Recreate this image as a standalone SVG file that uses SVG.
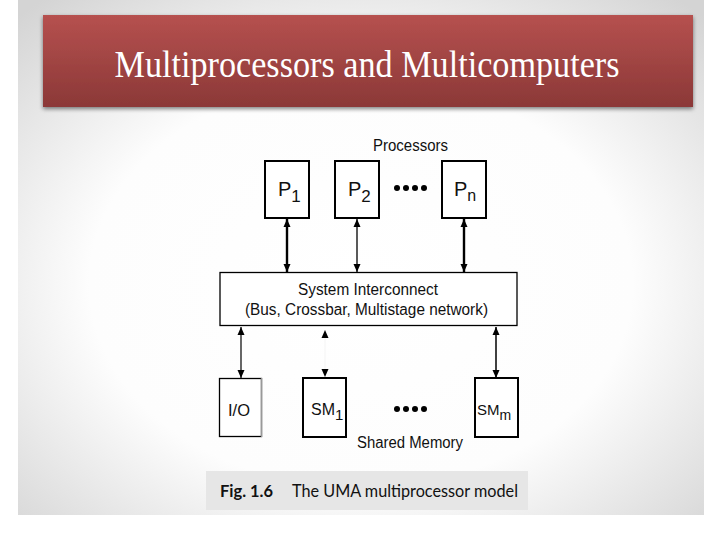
<svg xmlns="http://www.w3.org/2000/svg" width="720" height="540" viewBox="0 0 720 540">
<defs>
<radialGradient id="bg" cx="0.5" cy="0.55" r="0.72">
<stop offset="0" stop-color="#ffffff"/>
<stop offset="0.55" stop-color="#fdfdfd"/>
<stop offset="1" stop-color="#d4d4d4"/>
</radialGradient>
<linearGradient id="ban" x1="0" y1="0" x2="0" y2="1">
<stop offset="0" stop-color="#b6514f"/>
<stop offset="1" stop-color="#8b3837"/>
</linearGradient>
<filter id="sh" x="-5%" y="-10%" width="110%" height="130%">
<feGaussianBlur in="SourceAlpha" stdDeviation="2"/>
<feOffset dx="0" dy="2"/>
<feComponentTransfer><feFuncA type="linear" slope="0.5"/></feComponentTransfer>
<feMerge><feMergeNode/><feMergeNode in="SourceGraphic"/></feMerge>
</filter>
<marker id="ah" viewBox="0 0 8 10" refX="8" refY="5" markerWidth="8" markerHeight="10" markerUnits="userSpaceOnUse" orient="auto-start-reverse">
<path d="M0,1.5 L8,5 L0,8.5 Z" fill="#000"/>
</marker>
</defs>
<style>
.box{fill:#fff;stroke:#000;stroke-width:2}
.lbl{font-family:"Liberation Sans",Arial,sans-serif;fill:#111}
.con{fill:none;stroke:#000}
.dot{fill:#000}
</style>
<rect x="0" y="0" width="720" height="540" fill="#fff"/>
<rect x="18" y="0" width="686" height="515" fill="url(#bg)"/>
<g id="title">
<rect x="43" y="15" width="650" height="92" fill="url(#ban)" filter="url(#sh)"/>
<text x="367" y="77" text-anchor="middle" font-family="'Liberation Serif','DejaVu Serif',serif" font-size="38" fill="#fff" textLength="505" lengthAdjust="spacingAndGlyphs">Multiprocessors and Multicomputers</text>
</g>
<text class="lbl" x="373" y="151" font-size="17" textLength="75" lengthAdjust="spacingAndGlyphs">Processors</text>
<g id="P1">
<rect class="box" x="265" y="161" width="44" height="57"/>
<text class="lbl" x="278" y="196" font-size="20">P<tspan font-size="17" dy="6">1</tspan></text>
</g>
<g id="P2">
<rect class="box" x="335" y="161" width="44" height="57"/>
<text class="lbl" x="348" y="196" font-size="20">P<tspan font-size="17" dy="6">2</tspan></text>
</g>
<g id="pdots">
<circle class="dot" cx="397" cy="188" r="3"/><circle class="dot" cx="406" cy="188" r="3"/><circle class="dot" cx="415" cy="188" r="3"/><circle class="dot" cx="424" cy="188" r="3"/>
</g>
<g id="Pn">
<rect class="box" x="442" y="161" width="44" height="57"/>
<text class="lbl" x="454" y="196" font-size="20">P<tspan font-size="16" dy="5">n</tspan></text>
</g>
<g id="interconnect">
<rect x="220" y="272.5" width="297" height="53" fill="#fff" stroke="#000" stroke-width="1.3"/>
<text class="lbl" x="298" y="295" font-size="16" textLength="140" lengthAdjust="spacingAndGlyphs">System Interconnect</text>
<text class="lbl" x="245" y="315" font-size="16" textLength="243" lengthAdjust="spacingAndGlyphs">(Bus, Crossbar, Multistage network)</text>
</g>
<g id="IO">
<rect x="219.5" y="378.5" width="42" height="58" fill="#fff" stroke="#000" stroke-width="1.3"/>
<line x1="261.5" y1="378" x2="261.5" y2="437" stroke="#999" stroke-width="1.3"/>
<text class="lbl" x="228" y="416" font-size="17" textLength="22" lengthAdjust="spacingAndGlyphs">I/O</text>
</g>
<g id="SM1">
<rect class="box" x="303" y="378" width="43" height="59"/>
<text class="lbl" x="311" y="415" font-size="16">SM<tspan font-size="15" dy="5">1</tspan></text>
</g>
<g id="mdots">
<circle class="dot" cx="397" cy="409" r="3"/><circle class="dot" cx="406" cy="409" r="3"/><circle class="dot" cx="415" cy="409" r="3"/><circle class="dot" cx="424" cy="409" r="3"/>
</g>
<g id="SMm">
<rect class="box" x="475" y="378" width="43" height="59"/>
<text class="lbl" x="477" y="415" font-size="15">SM<tspan font-size="14" dy="5">m</tspan></text>
</g>
<text class="lbl" x="357" y="448" font-size="16" textLength="106" lengthAdjust="spacingAndGlyphs">Shared Memory</text>
<g id="connectors">
<line class="con" x1="287" y1="219" x2="287" y2="272" stroke-width="2.4" marker-start="url(#ah)" marker-end="url(#ah)"/>
<line class="con" x1="357" y1="219" x2="357" y2="272" stroke-width="1.3" marker-start="url(#ah)" marker-end="url(#ah)"/>
<line class="con" x1="464" y1="219" x2="464" y2="272" stroke-width="2.4" marker-start="url(#ah)" marker-end="url(#ah)"/>
<line class="con" x1="241" y1="327" x2="241" y2="378" stroke-width="1.2" marker-start="url(#ah)" marker-end="url(#ah)"/>
<line x1="325" y1="330" x2="325" y2="377" stroke="#f4f4f4" stroke-width="1" marker-start="url(#ah)" marker-end="url(#ah)"/>
<line class="con" x1="496" y1="327" x2="496" y2="378" stroke-width="1.5" marker-start="url(#ah)" marker-end="url(#ah)"/>
</g>
<g id="caption">
<rect x="206" y="471" width="322" height="39" fill="#e6e6e6"/>
<text x="220" y="497" font-family="Lato,'Open Sans',sans-serif" font-size="17" font-weight="bold" fill="#111" textLength="53" lengthAdjust="spacingAndGlyphs">Fig. 1.6</text>
<text x="292" y="497" font-family="Lato,'Open Sans',sans-serif" font-size="17" fill="#111" textLength="226" lengthAdjust="spacingAndGlyphs">The UMA multiprocessor model</text>
</g>
</svg>
